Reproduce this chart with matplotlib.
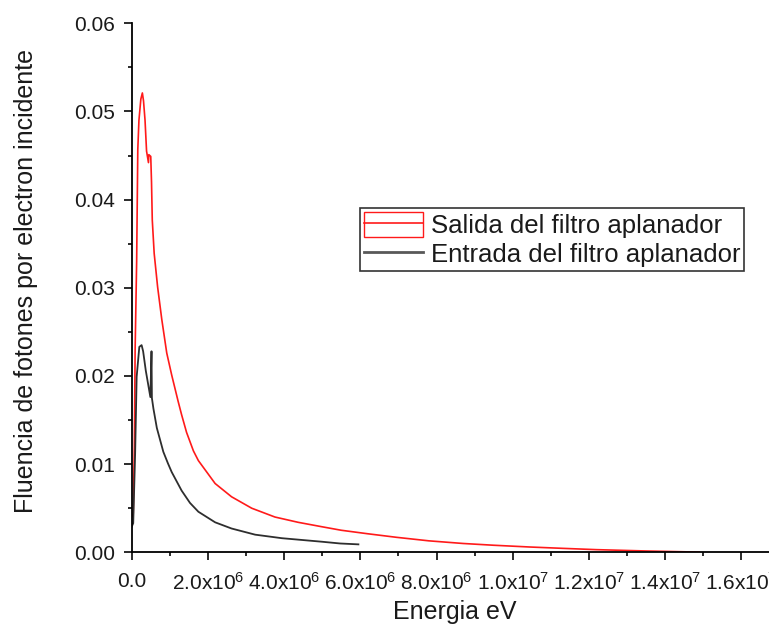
import matplotlib
matplotlib.use("Agg")
import matplotlib.pyplot as plt
from matplotlib.patches import Patch
from matplotlib.lines import Line2D
from matplotlib.legend_handler import HandlerTuple
from matplotlib.ticker import FixedLocator, FixedFormatter, MultipleLocator

plt.rcParams['font.family'] = ['Liberation Sans', 'DejaVu Sans']
plt.rcParams['mathtext.fontset'] = 'custom'
plt.rcParams['mathtext.rm'] = 'Liberation Sans'

# Photon fluence spectra (photons per incident electron) vs energy in eV
energia_salida = [0.00e6, 0.04e6, 0.07e6, 0.09e6, 0.13e6, 0.16e6, 0.19e6, 0.24e6,
                  0.28e6, 0.31e6, 0.35e6, 0.39e6, 0.44e6, 0.45e6, 0.50e6, 0.52e6,
                  0.54e6, 0.59e6, 0.68e6, 0.79e6, 0.92e6, 1.05e6, 1.22e6, 1.31e6,
                  1.44e6, 1.62e6, 1.75e6, 2.19e6, 2.62e6, 3.15e6, 3.76e6, 4.37e6,
                  4.99e6, 5.50e6, 6.20e6, 6.95e6, 7.80e6, 8.70e6, 9.50e6, 10.45e6,
                  11.30e6, 12.20e6, 13.50e6, 14.90e6]
fluencia_salida = [0.0040, 0.0044, 0.0120, 0.0230, 0.0330, 0.0457, 0.0490, 0.0514,
                   0.0521, 0.0512, 0.0490, 0.0455, 0.0442, 0.0451, 0.0449, 0.0420,
                   0.0377, 0.0339, 0.0301, 0.0264, 0.0226, 0.0201, 0.0171, 0.0156,
                   0.0136, 0.0115, 0.0104, 0.0078, 0.0063, 0.0050, 0.0040, 0.0034,
                   0.0029, 0.0025, 0.0021, 0.0017, 0.0013, 0.0010, 0.0008, 0.0006,
                   0.00045, 0.0003, 0.00015, 0.00002]

energia_entrada = [0.00e6, 0.04e6, 0.09e6, 0.13e6, 0.20e6, 0.26e6, 0.30e6, 0.37e6,
                   0.49e6, 0.52e6, 0.53e6, 0.57e6, 0.66e6, 0.83e6, 0.95e6, 1.05e6,
                   1.31e6, 1.53e6, 1.75e6, 2.19e6, 2.62e6, 3.24e6, 3.94e6, 4.99e6,
                   5.47e6, 5.95e6]
fluencia_entrada = [0.0029, 0.0033, 0.0112, 0.0199, 0.0233, 0.0235, 0.0228, 0.0206,
                    0.0176, 0.0228, 0.0175, 0.0163, 0.0141, 0.0114, 0.0101, 0.0091,
                    0.0070, 0.0056, 0.0046, 0.0034, 0.0027, 0.0020, 0.0016, 0.0012,
                    0.0010, 0.0009]

x_ticks = [0, 2e6, 4e6, 6e6, 8e6, 1.0e7, 1.2e7, 1.4e7, 1.6e7]
x_tick_labels = ["0.0",
                 r"$\mathregular{2.0x10^{6}}$", r"$\mathregular{4.0x10^{6}}$",
                 r"$\mathregular{6.0x10^{6}}$", r"$\mathregular{8.0x10^{6}}$",
                 r"$\mathregular{1.0x10^{7}}$", r"$\mathregular{1.2x10^{7}}$",
                 r"$\mathregular{1.4x10^{7}}$", r"$\mathregular{1.6x10^{7}}$"]
y_ticks = [0.00, 0.01, 0.02, 0.03, 0.04, 0.05, 0.06]
y_tick_labels = ["0.00", "0.01", "0.02", "0.03", "0.04", "0.05", "0.06"]

label_salida = "Salida del filtro aplanador"
label_entrada = "Entrada del filtro aplanador"

W, H = 769, 641
fig = plt.figure(figsize=(W / 100, H / 100), dpi=100)
x0, y0, ytop = 131.7, 552.3, 23.3
px_per_unit = 38.1e-6
xmax = 1.7e7
ax = fig.add_axes([x0 / W, (H - y0) / H, (xmax * px_per_unit) / W, (y0 - ytop) / H])

red = '#ff1a1a'
dark = '#2e2e2e'
ax.plot(energia_salida, fluencia_salida, color=red, lw=1.2)
ax.plot(energia_entrada, fluencia_entrada, color=dark, lw=1.3)

ax.set_xlim(0, xmax)
ax.set_ylim(0, 0.06)

for s in ('top', 'right'):
    ax.spines[s].set_visible(False)
for s in ('left', 'bottom'):
    ax.spines[s].set_linewidth(1.3)

ax.xaxis.set_major_locator(FixedLocator(x_ticks))
ax.xaxis.set_major_formatter(FixedFormatter(x_tick_labels))
ax.xaxis.set_minor_locator(MultipleLocator(1e6))
ax.yaxis.set_major_locator(FixedLocator(y_ticks))
ax.yaxis.set_major_formatter(FixedFormatter(y_tick_labels))
ax.yaxis.set_minor_locator(MultipleLocator(0.005))

ax.tick_params(which='major', direction='out', length=6, width=1.3,
               labelsize=15, colors='#1a1a1a', pad=6)
ax.tick_params(which='minor', direction='out', length=3, width=1.3, colors='#1a1a1a')
ax.tick_params(axis='x', which='major', pad=8)

ax.set_xlabel("Energia eV", fontsize=18, color='#1a1a1a')
ax.set_ylabel("Fluencia de fotones por electron incidente", fontsize=18, color='#1a1a1a')
ax.xaxis.set_label_coords((455 - x0) / (xmax * px_per_unit), (y0 - 612) / (y0 - ytop))
ax.xaxis.label.set_verticalalignment('center')
ax.yaxis.set_label_coords((26 - x0) / (xmax * px_per_unit), (y0 - 281) / (y0 - ytop))
ax.yaxis.label.set_verticalalignment('center')

h_salida = (Patch(facecolor='none', edgecolor=red, linewidth=1.0),
            Line2D([], [], color=red, lw=1.2))
h_entrada = Line2D([], [], color=dark, lw=2.0, alpha=0.8)
leg = fig.legend([h_salida, h_entrada], [label_salida, label_entrada],
                 handler_map={tuple: HandlerTuple(ndivide=1, pad=0)},
                 loc='upper left', bbox_to_anchor=(360 / W, 1 - 208.3 / H),
                 bbox_transform=fig.transFigure, borderaxespad=0,
                 fontsize=18.5, frameon=True, fancybox=False, framealpha=1,
                 edgecolor='#333333', borderpad=0.15, handlelength=2.3,
                 handleheight=1.1, handletextpad=0.3, labelspacing=0.12)
leg.get_frame().set_linewidth(1.2)
for t in leg.get_texts():
    t.set_color('#1a1a1a')

fig.savefig("out.png", dpi=100)
